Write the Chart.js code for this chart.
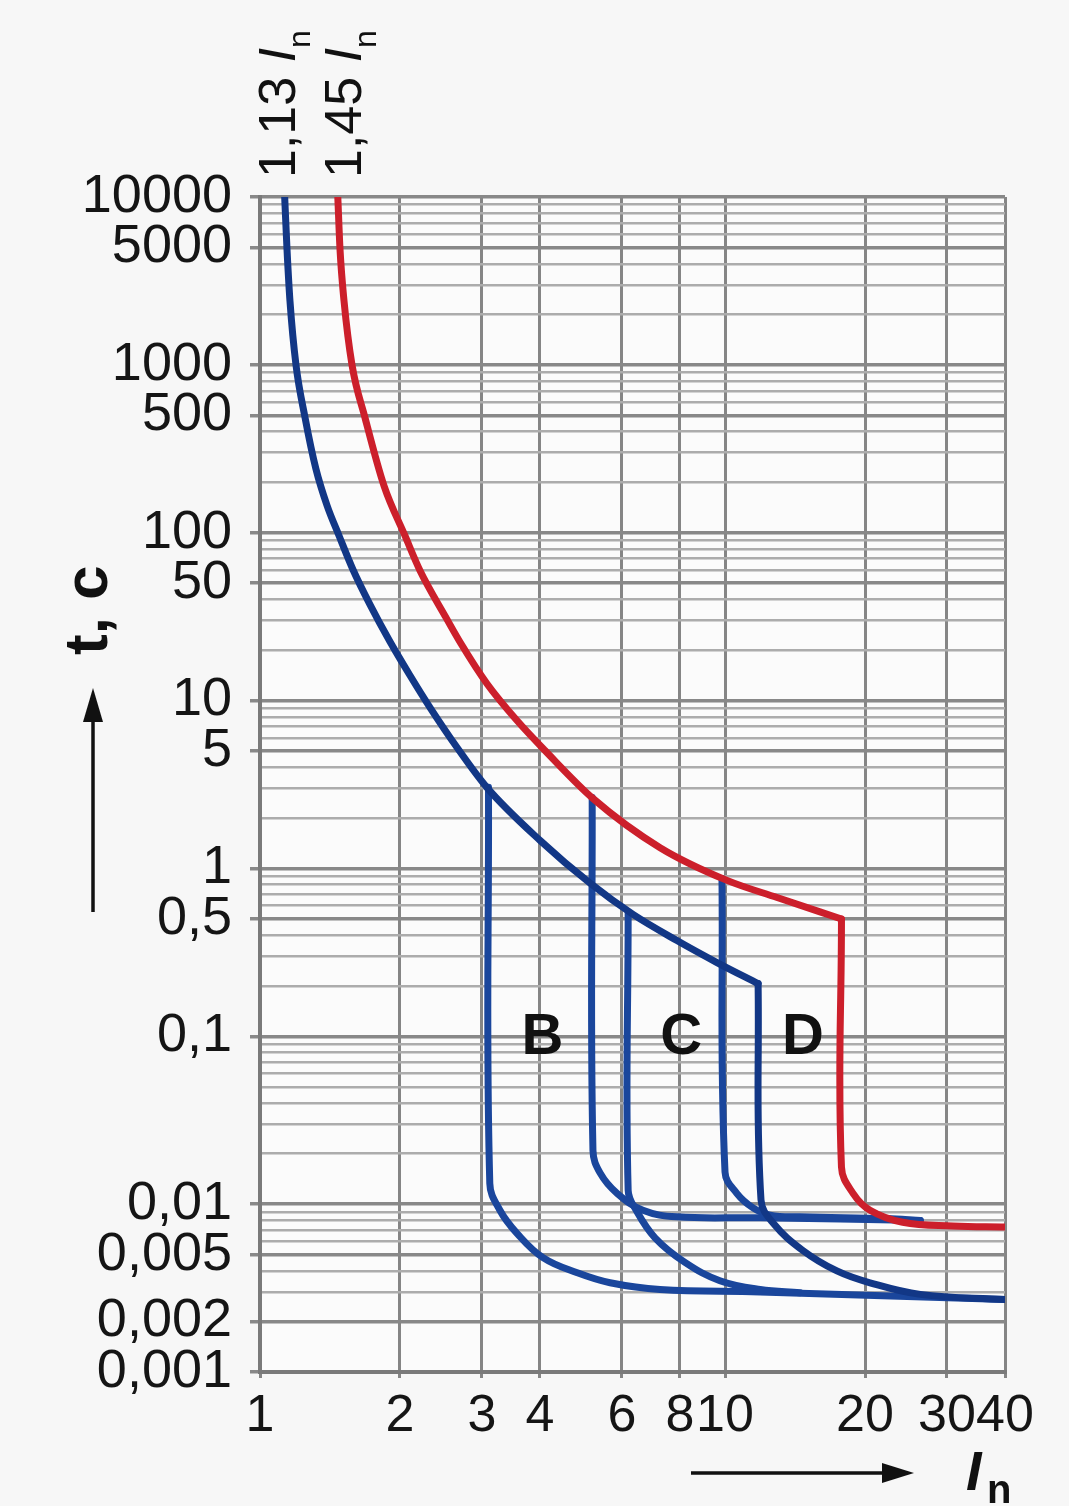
<!DOCTYPE html>
<html lang="ru">
<head>
<meta charset="UTF-8" />
<title>Время-токовые характеристики B, C, D</title>
<script src="https://cdn.jsdelivr.net/npm/chart.js@4.4.1/dist/chart.umd.min.js"></script>
<style>
  html, body { margin: 0; padding: 0; background: #f7f7f7; }
  #wrap { width: 1069px; height: 1506px; }
</style>
</head>
<body>
<div id="wrap"><canvas id="chart" width="1069" height="1506"></canvas></div>
<script>
// axes: x = I / In (log), y = t, s (log)
const xTicks = [1, 2, 3, 4, 6, 8, 10, 20, 30, 40];
const yLabelValues = [10000, 5000, 1000, 500, 100, 50, 10, 5, 1, 0.5, 0.1, 0.01, 0.005, 0.002, 0.001];
const yLabelTexts = ['10000', '5000', '1000', '500', '100', '50', '10', '5', '1', '0,5', '0,1', '0,01', '0,005', '0,002', '0,001'];
const yDecades = [0.001, 0.01, 0.1, 1, 10, 100, 1000];
const yMultipliers = [1, 2, 3, 4, 5, 6, 7, 8, 9];

// thermal release, 1,13 In (blue)
const therm113X = [1.13, 1.143, 1.16, 1.195, 1.249, 1.319, 1.394, 1.479, 1.585, 1.724, 1.904, 2.102, 2.321, 2.653, 3.077, 4.0, 5.13, 6.34, 7.88, 9.61, 11.78];
const therm113Y = [10000, 4900, 2400, 1000, 490, 240, 145, 96, 60.2, 37.3, 22.4, 14.1, 9.08, 5.25, 3.03, 1.47, 0.815, 0.532, 0.372, 0.275, 0.206];
// thermal release, 1,45 In (red)
const therm145X = [1.47, 1.486, 1.516, 1.577, 1.682, 1.848, 2.05, 2.209, 2.512, 2.706, 3.077, 3.57, 4.1, 5.2, 7.25, 10.1, 12.94, 17.8];
const therm145Y = [10000, 4900, 2400, 1000, 484, 190, 96, 59.4, 31.2, 21.8, 12.6, 7.6, 5.04, 2.61, 1.33, 0.849, 0.671, 0.5];
// instantaneous trip of the red curve
const tripRedX = [17.8, 17.8, 18.85, 20.5, 24.1, 30.9, 40];
const tripRedY = [0.5, 0.0166, 0.0116, 0.0092, 0.0078, 0.0074, 0.0073];
// blue trip branches
const tripB1X = [3.1, 3.12, 3.28, 3.57, 4.06, 4.81, 5.66, 7.25, 11.9, 40];
const tripB1Y = [3.05, 0.0133, 0.0092, 0.0067, 0.0048, 0.0039, 0.0034, 0.0031, 0.003, 0.0027];
const tripC1X = [5.18, 5.2, 5.39, 5.86, 6.66, 7.88, 11.9, 26.3];
const tripC1Y = [2.65, 0.0209, 0.0153, 0.0116, 0.0092, 0.0084, 0.0083, 0.008];
const tripC2X = [6.19, 6.19, 6.44, 7.07, 8.2, 9.75, 11.9, 14.5];
const tripC2Y = [0.55, 0.0121, 0.0092, 0.0063, 0.0045, 0.0035, 0.0031, 0.00297];
const tripD1X = [9.85, 10.0, 10.6, 11.49, 12.5, 14.5, 22.3, 26.3];
const tripD1Y = [0.87, 0.0155, 0.0116, 0.0095, 0.0086, 0.0084, 0.0082, 0.008];
const tripD2X = [11.78, 11.95, 12.7, 14.7, 17.4, 20.5, 26.3, 40];
const tripD2Y = [0.206, 0.0106, 0.0077, 0.0053, 0.004, 0.0034, 0.0029, 0.0027];

const zoneNames = ['B', 'C', 'D'];
const zoneX = [4.05, 8.05, 14.7];
const zoneY = 0.1;

const BLUE = '#123786';
const BLUE2 = '#1a469c';
const RED = '#cc1f2b';

function pts(xs, ys) { return xs.map((x, i) => ({ x: x, y: ys[i] })); }

const yGrid = [];
yDecades.forEach(d => yMultipliers.forEach(m => yGrid.push(parseFloat((m * d).toPrecision(3)))));
yGrid.push(10000);

function isLabelled(v) { return yLabelValues.findIndex(l => Math.abs(l - v) / l < 1e-6); }

// smooth=true -> monotone cubic (only for curves with strictly growing x)
function line(data, color, order, smooth) {
  const ds = { data: data, borderColor: color, borderWidth: 7, pointRadius: 0,
               fill: false, order: order, borderJoinStyle: 'round', borderCapStyle: 'round' };
  if (smooth) ds.cubicInterpolationMode = 'monotone';
  else ds.tension = 0.4;
  return ds;
}

const FONT = "'Liberation Sans', Arial, sans-serif";

const extras = {
  id: 'extras',
  beforeDraw(chart) {
    const c = chart.ctx;
    c.save();
    c.fillStyle = '#f7f7f7';
    c.fillRect(0, 0, chart.width, chart.height);
    const a = chart.chartArea;
    c.fillStyle = '#fbfbfb';
    c.fillRect(a.left, a.top, a.right - a.left, a.bottom - a.top);
    c.restore();
  },
  afterDatasetsDraw(chart) {
    const c = chart.ctx, xs = chart.scales.x, ys = chart.scales.y;
    c.save();
    c.fillStyle = '#111';
    c.font = 'bold 58px ' + FONT;
    c.textAlign = 'center';
    c.textBaseline = 'middle';
    zoneNames.forEach((n, i) => c.fillText(n, xs.getPixelForValue(zoneX[i]), ys.getPixelForValue(zoneY) + 2));
    c.restore();
  },
  afterDraw(chart) {
    const c = chart.ctx;
    c.save();
    c.fillStyle = '#111';
    c.strokeStyle = '#111';
    c.textAlign = 'left';
    c.textBaseline = 'alphabetic';

    function rotated(x, y, parts) {
      c.save();
      c.translate(x, y);
      c.rotate(-Math.PI / 2);
      let u = 0;
      parts.forEach(p => {
        c.font = p.f;
        c.fillText(p.t, u, p.dy || 0);
        u += c.measureText(p.t).width;
      });
      c.restore();
    }
    rotated(295, 178, [
      { t: '1,13 ', f: '52px ' + FONT },
      { t: 'I', f: 'italic 52px ' + FONT },
      { t: 'n', f: '32px ' + FONT, dy: 15 }
    ]);
    rotated(361, 178, [
      { t: '1,45 ', f: '52px ' + FONT },
      { t: 'I', f: 'italic 52px ' + FONT },
      { t: 'n', f: '32px ' + FONT, dy: 15 }
    ]);
    rotated(107, 655, [{ t: 't, c', f: 'bold 62px ' + FONT }]);

    // vertical arrow
    c.lineWidth = 3.5;
    c.beginPath(); c.moveTo(93, 912); c.lineTo(93, 712); c.stroke();
    c.beginPath(); c.moveTo(93, 688); c.lineTo(83, 722); c.lineTo(103, 722); c.closePath(); c.fill();
    // horizontal arrow
    c.beginPath(); c.moveTo(691, 1473); c.lineTo(890, 1473); c.stroke();
    c.beginPath(); c.moveTo(914, 1473); c.lineTo(882, 1463); c.lineTo(882, 1483); c.closePath(); c.fill();

    c.font = 'bold italic 56px ' + FONT;
    c.fillText('I', 966, 1490);
    c.font = 'bold 40px ' + FONT;
    c.fillText('n', 987, 1503);
    c.restore();
  }
};

new Chart(document.getElementById('chart'), {
  type: 'line',
  data: {
    datasets: [
      line(pts(therm145X, therm145Y), RED, 0, true),
      line(pts(tripRedX, tripRedY), RED, 0, false),
      line(pts(therm113X, therm113Y), BLUE, 1, true),
      line(pts(tripD2X, tripD2Y), BLUE, 1, false),
      line(pts(tripB1X, tripB1Y), BLUE2, 2, false),
      line(pts(tripC1X, tripC1Y), BLUE2, 2, false),
      line(pts(tripC2X, tripC2Y), BLUE2, 2, false),
      line(pts(tripD1X, tripD1Y), BLUE2, 2, false)
    ]
  },
  options: {
    responsive: false,
    animation: false,
    layout: { padding: { top: 197, right: 64, bottom: 0, left: 0 } },
    plugins: { legend: { display: false }, tooltip: { enabled: false } },
    scales: {
      x: {
        type: 'logarithmic',
        min: 1, max: 40, bounds: 'data',
        afterBuildTicks: s => { s.ticks = xTicks.map(v => ({ value: v })); },
        afterFit: s => { s.height = 134; },
        grid: { color: '#858585', lineWidth: 3, tickLength: 6, tickColor: '#858585' },
        border: { color: '#7a7a7a', width: 4 },
        ticks: {
          autoSkip: false, maxRotation: 0, padding: 7, color: '#151515',
          font: { family: FONT, size: 52 },
          callback: v => String(v)
        }
      },
      y: {
        type: 'logarithmic',
        min: 0.001, max: 10000, bounds: 'data',
        afterBuildTicks: s => { s.ticks = yGrid.map(v => ({ value: v })); },
        afterFit: s => { s.width = 260; },
        grid: {
          color: ctx => isLabelled(ctx.tick.value) >= 0 ? '#888888' : '#acacac',
          lineWidth: ctx => isLabelled(ctx.tick.value) >= 0 ? 3.5 : 2.5,
          tickLength: 10,
          tickColor: ctx => isLabelled(ctx.tick.value) >= 0 ? '#888888' : 'rgba(0,0,0,0)'
        },
        border: { color: '#7a7a7a', width: 4 },
        ticks: {
          autoSkip: false, padding: 18, color: '#151515',
          font: { family: FONT, size: 54 },
          callback: v => { const i = isLabelled(v); return i >= 0 ? yLabelTexts[i] : ''; }
        }
      }
    }
  },
  plugins: [extras]
});
</script>
</body>
</html>
